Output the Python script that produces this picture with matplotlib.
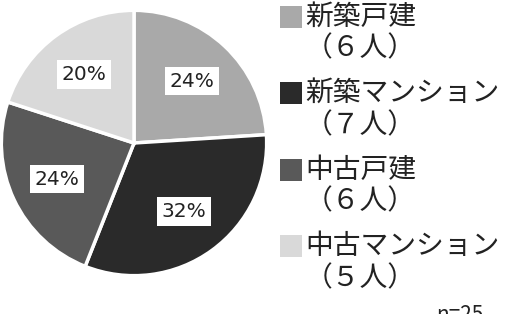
import matplotlib.pyplot as plt
from matplotlib.patches import Rectangle

plt.rcParams['font.family'] = ['Noto Sans CJK JP', 'DejaVu Sans']

# data
categories = ['新築戸建', '新築マンション', '中古戸建', '中古マンション']
counts = ['（６人）', '（７人）', '（６人）', '（５人）']
shares = [24, 32, 24, 20]
colors = ['#a9a9a9', '#2a2a2a', '#595959', '#d9d9d9']
note = 'n=25'

W, H = 510, 314
fig = plt.figure(figsize=(W / 100, H / 100), dpi=100)

# pie
ax = fig.add_axes([0, 37 / H, 268 / W, 268 / H])
wedges, texts, autotexts = ax.pie(
    shares,
    colors=colors,
    startangle=90,
    counterclock=False,
    autopct=lambda p: f'{p:.0f}%',
    pctdistance=0.64,
    wedgeprops=dict(edgecolor='white', linewidth=2.5),
    radius=1.0,
)
for t in autotexts:
    t.set_fontsize(14.5)
    t.set_family('DejaVu Sans')
    t.set_color('#222222')
    t.set_bbox(dict(facecolor='white', edgecolor='none', pad=3.5))
ax.set_xlim(-1.01, 1.01)
ax.set_ylim(-1.01, 1.01)
ax.set_aspect('equal')
ax.axis('off')

# legend, drawn by hand so the swatch sits beside the first line
top = 16.5
step = 76.5
for i, (name, cnt, c) in enumerate(zip(categories, counts, colors)):
    y1 = top + i * step
    y2 = y1 + 32
    fig.patches.append(Rectangle((280 / W, 1 - (y1 + 11) / H), 22 / W, 22 / H,
                                 transform=fig.transFigure, facecolor=c,
                                 edgecolor='none'))
    fig.text(305 / W, 1 - y1 / H, name, fontsize=20, va='center', ha='left',
             color='#222222')
    fig.text(305 / W, 1 - y2 / H, cnt, fontsize=20, va='center', ha='left',
             color='#222222')

fig.text(436 / W, 1 - 304 / H, note, fontsize=15, va='top', ha='left',
         color='#222222')

fig.savefig('out.png', dpi=100)
